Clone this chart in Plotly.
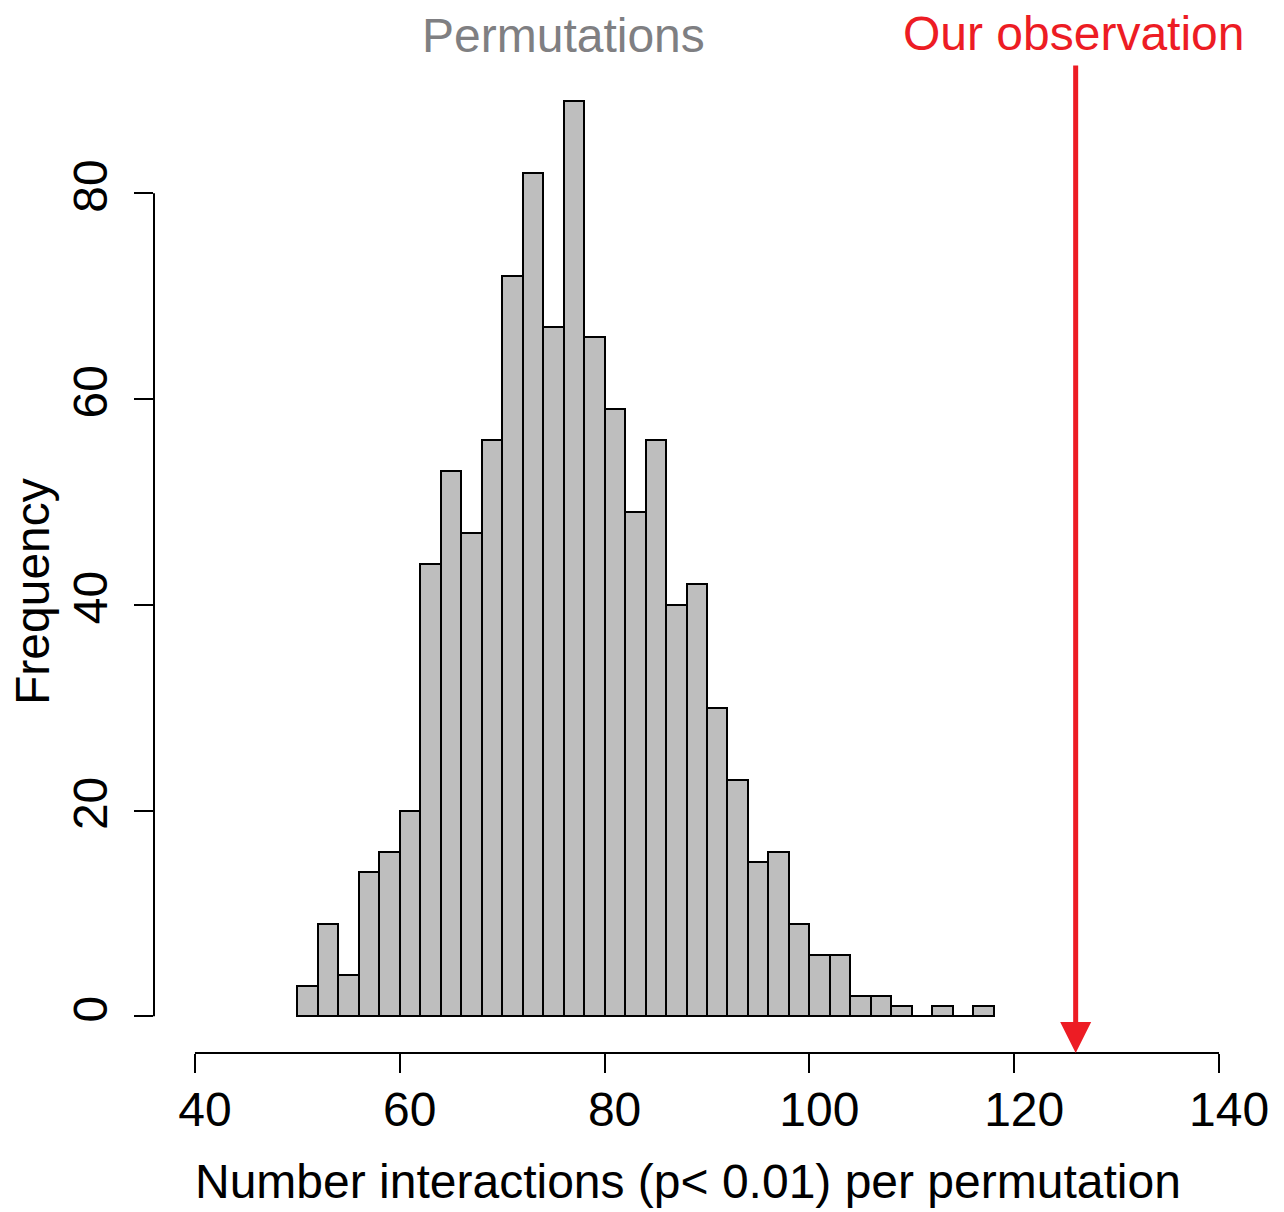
import plotly.graph_objects as go

# Histogram of interaction counts across permutations (bin width 2)
bin_edges_start = list(range(50, 118, 2))
counts = [3, 9, 4, 14, 16, 20, 44, 53, 47, 56, 72, 82, 67, 89, 66, 59, 49, 56,
          40, 42, 30, 23, 15, 16, 9, 6, 6, 2, 2, 1, 0, 1, 0, 1]
bin_width = 2

observed_value = 126

x_ticks = [40, 60, 80, 100, 120, 140]
y_ticks = [0, 20, 40, 60, 80]

# R-style axis extension (4% on each side)
x_lo, x_hi = 40, 140
x_pad = (x_hi - x_lo) * 0.04
x_range = [x_lo - x_pad, x_hi + x_pad]
y_max = max(counts)
y_pad = y_max * 0.04
y_range = [-y_pad, y_max + y_pad]

FONT = "Liberation Sans, Arial, Helvetica, sans-serif"
FS = 48
RED = "#ED1C24"
GREY_TEXT = "#7F7F82"

centers = [s + bin_width / 2 for s in bin_edges_start]

fig = go.Figure()
fig.add_trace(go.Bar(
    x=centers,
    y=counts,
    width=[bin_width] * len(counts),
    marker=dict(color="#BEBEBE", line=dict(color="black", width=2)),
    showlegend=False,
    hoverinfo="skip",
))

fig.update_layout(
    width=1284,
    height=1212,
    margin=dict(l=154, r=24, t=64, b=159),
    plot_bgcolor="white",
    paper_bgcolor="white",
    font=dict(family=FONT, size=FS, color="black"),
    bargap=0,
    xaxis=dict(
        range=x_range,
        tickvals=x_ticks,
        ticktext=[str(v) for v in x_ticks],
        ticks="outside",
        ticklen=19,
        tickwidth=2,
        tickcolor="black",
        showline=False,
        showgrid=False,
        zeroline=False,
        tickfont=dict(size=FS, family=FONT, color="black"),
        ticklabelstandoff=-5,
        ticklabelshift=10,
    ),
    yaxis=dict(
        range=y_range,
        tickvals=y_ticks,
        ticktext=[str(v) for v in y_ticks],
        ticks="outside",
        ticklen=19,
        tickwidth=2,
        tickcolor="black",
        tickangle=-90,
        showline=False,
        showgrid=False,
        zeroline=False,
        tickfont=dict(size=FS, family=FONT, color="black"),
        ticklabelstandoff=8,
    ),
)

# Axis lines spanning only the first to last tick, as in base R graphics
fig.add_shape(type="line", xref="x", yref="paper",
              x0=x_ticks[0], x1=x_ticks[-1], y0=0, y1=0,
              line=dict(color="black", width=2))
fig.add_shape(type="line", xref="paper", yref="y",
              x0=0, x1=0, y0=y_ticks[0], y1=y_ticks[-1],
              line=dict(color="black", width=2))

# Axis titles
fig.add_annotation(
    text="Number interactions (p< 0.01) per permutation",
    xref="paper", yref="paper", x=(688 - 154) / 1106, y=(1053 - 1181) / 989,
    xanchor="center", yanchor="middle", showarrow=False,
    font=dict(size=FS, family=FONT, color="black"),
)
fig.add_annotation(
    text="Frequency", textangle=-90,
    xref="paper", yref="paper", x=(32 - 154) / 1106, y=(1053 - 592) / 989,
    xanchor="center", yanchor="middle", showarrow=False,
    font=dict(size=FS, family=FONT, color="black"),
)

# Labels above the plot
fig.add_annotation(
    text="Permutations",
    xref="x", yref="paper", x=76, y=(1053 - 36) / 989,
    xanchor="center", yanchor="middle", showarrow=False,
    font=dict(size=FS, family=FONT, color=GREY_TEXT),
)
fig.add_annotation(
    text="Our observation",
    xref="x", yref="paper", x=observed_value, y=(1053 - 33) / 989,
    xanchor="center", yanchor="middle", showarrow=False, xshift=-2,
    font=dict(size=FS, family=FONT, color=RED),
)

# Arrow marking the observed value
fig.add_annotation(
    x=observed_value, y=y_range[0], xref="x", yref="y",
    ax=observed_value, ay=y_range[1], axref="x", ayref="y",
    text="", showarrow=True,
    arrowhead=2, arrowsize=1.24, arrowwidth=5, arrowcolor=RED,
    standoff=0,
)

fig.write_html("out.html")
